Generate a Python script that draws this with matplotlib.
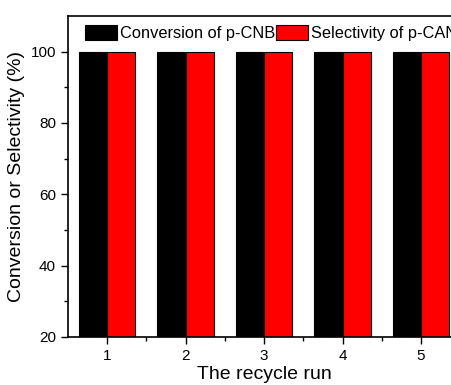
import numpy as np
import matplotlib.pyplot as plt

plt.rcParams['font.family'] = ['Liberation Sans', 'DejaVu Sans']

runs = [1, 2, 3, 4, 5]
conversion = [100, 100, 100, 100, 100]
selectivity = [99.9, 99.9, 99.9, 99.9, 99.9]

fig = plt.figure(figsize=(4.52, 3.85), dpi=100)
ax = fig.add_axes([0.1499, 0.1247, 0.8684, 0.834])

x = np.array(runs)
w = 0.357
ax.bar(x - w/2, conversion, width=w, color='black', edgecolor='black', linewidth=0.8,
       label='Conversion of p-CNB')
ax.bar(x + w/2, selectivity, width=w, color='#ff0000', edgecolor='black', linewidth=0.8,
       label='Selectivity of p-CAN')

ax.set_xlim(0.5, 5.5)
ax.set_ylim(20, 110)
ax.set_xticks(runs)
ax.set_xticks(np.arange(1.5, 5.5, 1), minor=True)
ax.set_yticks([20, 40, 60, 80, 100])
ax.set_yticks([30, 50, 70, 90], minor=True)
ax.tick_params(which='both', direction='out', labelsize=11, width=1)
ax.tick_params(which='major', length=5)
ax.tick_params(which='minor', length=3)
for s in ax.spines.values():
    s.set_linewidth(1.2)

ax.set_xlabel('The recycle run', fontsize=14, labelpad=2)
ax.set_ylabel('Conversion or Selectivity (%)', fontsize=14, labelpad=4)

ax.legend(loc='upper left', bbox_to_anchor=(0.043, 0.973), ncol=2, frameon=False,
          fontsize=11.8, handlelength=1.95, handleheight=1.1, handletextpad=0.2,
          columnspacing=0.05, borderaxespad=0, borderpad=0)

fig.savefig('out.png', dpi=100)
